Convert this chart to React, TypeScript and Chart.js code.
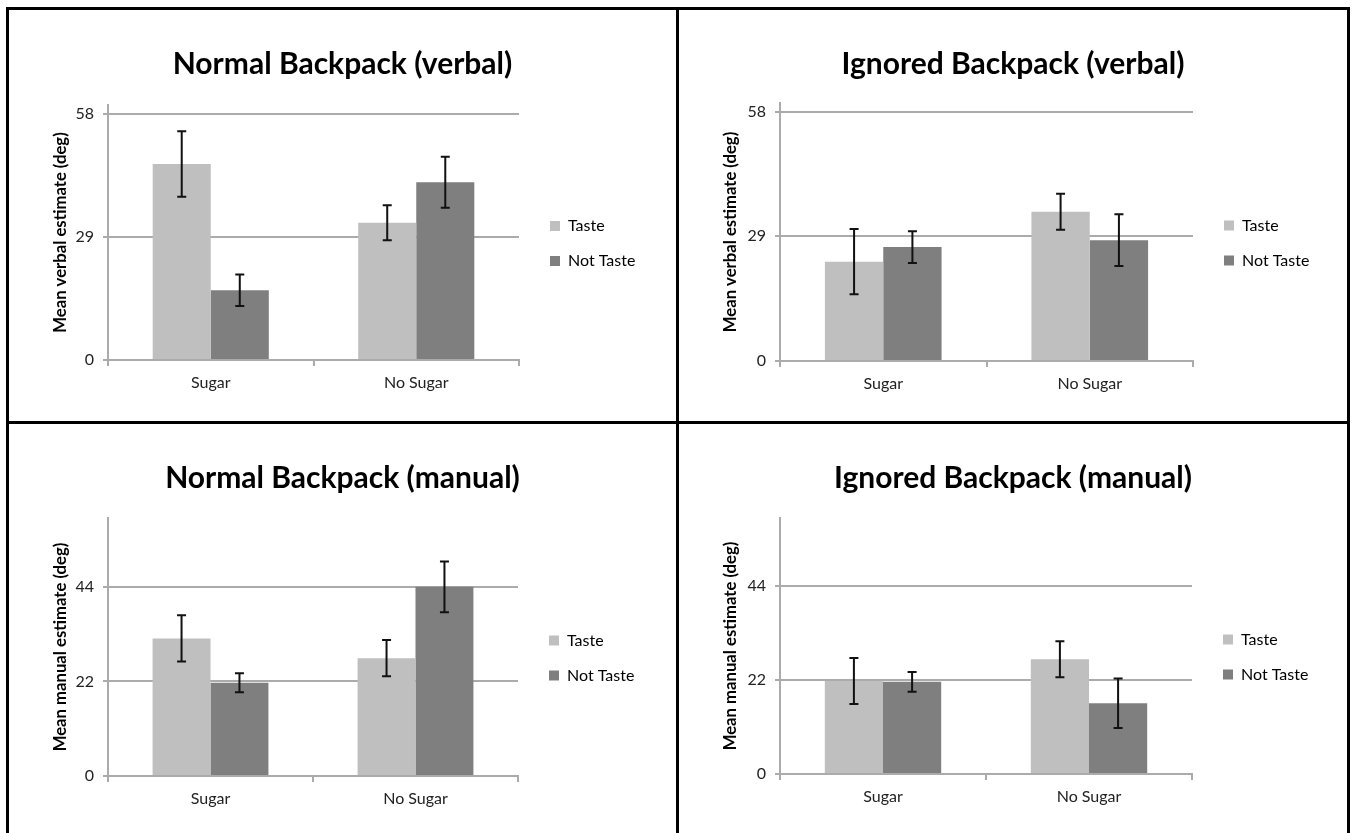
import React, { useEffect, useRef } from 'react';
import { Chart, registerables } from 'chart.js';

Chart.register(...registerables);
Chart.defaults.font.family = 'Lato';

// ---------- data ----------
const categories = ['Sugar', 'No Sugar'];
const seriesNames = ['Taste', 'Not Taste'];
const verbalTicks = [0, 29, 58];
const manualTicks = [0, 22, 44];
const yMax = 60;

const normalVerbalTaste = [46.1, 32.3];
const normalVerbalNotTaste = [16.4, 41.8];
const normalVerbalTasteErr = [7.7, 4.1];
const normalVerbalNotTasteErr = [3.7, 6.0];

const ignoredVerbalTaste = [23.1, 34.7];
const ignoredVerbalNotTaste = [26.5, 28.1];
const ignoredVerbalTasteErr = [7.6, 4.2];
const ignoredVerbalNotTasteErr = [3.7, 6.0];

const normalManualTaste = [32.0, 27.4];
const normalManualNotTaste = [21.7, 44.0];
const normalManualTasteErr = [5.4, 4.2];
const normalManualNotTasteErr = [2.2, 5.9];

const ignoredManualTaste = [21.8, 26.9];
const ignoredManualNotTaste = [21.6, 16.6];
const ignoredManualTasteErr = [5.4, 4.2];
const ignoredManualNotTasteErr = [2.3, 5.8];

// ---------- style ----------
const TASTE_COLOR = '#bfbfbf';
const NOT_TASTE_COLOR = '#7f7f7f';
const GRID = '#ababab';
const LEGEND_FONT_SIZE = 16;
const LEGEND_PAD = 19;
const LEGEND_BOX = 10;
const LEGEND_GAP = 12;

const errorBarPlugin = {
  id: 'errorBars',
  afterDatasetsDraw(chart: any) {
    const { ctx } = chart;
    const yScale = chart.scales.y;
    chart.data.datasets.forEach((ds: any, i: number) => {
      const meta = chart.getDatasetMeta(i);
      meta.data.forEach((bar: any, j: number) => {
        const v = ds.data[j];
        const e = ds.errors[j];
        const x = bar.x;
        const yTop = yScale.getPixelForValue(v + e);
        const yBot = yScale.getPixelForValue(v - e);
        ctx.save();
        ctx.strokeStyle = '#111';
        ctx.lineWidth = 2;
        ctx.beginPath();
        ctx.moveTo(x, yTop);
        ctx.lineTo(x, yBot);
        ctx.moveTo(x - 4.5, yTop);
        ctx.lineTo(x + 4.5, yTop);
        ctx.moveTo(x - 4.5, yBot);
        ctx.lineTo(x + 4.5, yBot);
        ctx.stroke();
        ctx.restore();
      });
    });
  },
};

// fixes the legend box width so the plot area has a known right edge
const legendWidthPlugin = {
  id: 'legendWidth',
  beforeLayout(chart: any, _args: any, opts: any) {
    const lg = chart.legend;
    if (lg && !lg.__fixed) {
      const orig = lg.fit.bind(lg);
      lg.fit = function () {
        orig();
        this.width = opts.width;
      };
      lg.__fixed = true;
    }
  },
};

type Area = { left: number; right: number; top: number; bottom: number };

type PanelProps = {
  title: string;
  yTitle: string;
  ticks: number[];
  taste: number[];
  notTaste: number[];
  tasteErr: number[];
  notTasteErr: number[];
  width: number;
  height: number;
  x: number;
  y: number;
  area: Area;
};

function Panel(p: PanelProps) {
  const ref = useRef<HTMLCanvasElement>(null);
  useEffect(() => {
    const canvas = ref.current!;
    const legendWidth = p.width - p.area.right - LEGEND_GAP;

    const titleSize = 30;
    const titleLH = titleSize * 1.2;
    const titleCenter = 54;
    const titleTop = titleCenter - titleLH / 2;
    const titleBottom = p.area.top - titleTop - titleLH;

    const chart = new Chart(canvas, {
      type: 'bar',
      data: {
        labels: categories,
        datasets: [
          {
            label: seriesNames[0],
            data: p.taste,
            errors: p.tasteErr,
            backgroundColor: TASTE_COLOR,
            borderWidth: 0,
            categoryPercentage: 0.565,
            barPercentage: 1.0,
          } as any,
          {
            label: seriesNames[1],
            data: p.notTaste,
            errors: p.notTasteErr,
            backgroundColor: NOT_TASTE_COLOR,
            borderWidth: 0,
            categoryPercentage: 0.565,
            barPercentage: 1.0,
          } as any,
        ],
      },
      options: {
        responsive: false,
        animation: false,
        layout: { padding: 0 },
        plugins: {
          tooltip: { enabled: false },
          legendWidth: { width: legendWidth },
          title: {
            display: true,
            text: p.title,
            color: '#000',
            font: { family: 'Lato', size: titleSize, weight: 'bold', lineHeight: 1.2 },
            padding: { top: titleTop, bottom: titleBottom },
          },
          legend: {
            position: 'right',
            align: 'center',
            fullSize: false,
            title: {
              display: true,
              text: ' ',
              font: { size: 10, lineHeight: 1.2 },
              padding: { top: 10, bottom: 0 },
            },
            labels: {
              boxWidth: LEGEND_BOX,
              boxHeight: LEGEND_BOX,
              padding: LEGEND_PAD,
              color: '#000',
              font: { family: 'Lato', size: LEGEND_FONT_SIZE },
            },
          },
        },
        scales: {
          x: {
            offset: true,
            grid: {
              display: true,
              drawOnChartArea: false,
              drawTicks: true,
              tickLength: 6,
              color: GRID,
              lineWidth: 2,
            },
            border: { display: true, color: GRID, width: 2 },
            ticks: { color: '#222', font: { size: 16 }, padding: 7 },
            afterFit: (s: any) => {
              s.height = p.height - p.area.bottom;
            },
          },
          y: {
            min: 0,
            max: yMax,
            afterBuildTicks: (s: any) => {
              s.ticks = p.ticks.map((v) => ({ value: v }));
            },
            grid: { color: GRID, lineWidth: 2, tickLength: 5 },
            border: { display: true, color: GRID, width: 2 },
            ticks: { color: '#222', font: { size: 16 }, padding: 9 },
            title: {
              display: true,
              text: p.yTitle,
              color: '#000',
              font: { size: 16.7, weight: 'bold', lineHeight: 1.2 },
              padding: { top: 42, bottom: 0 },
            },
            afterFit: (s: any) => {
              s.width = p.area.left;
            },
          },
          gap: {
            type: 'linear',
            position: 'right',
            display: true,
            grid: { display: false },
            ticks: { display: false },
            border: { display: false },
            afterFit: (s: any) => {
              s.width = LEGEND_GAP;
            },
          },
        },
      } as any,
      plugins: [errorBarPlugin, legendWidthPlugin],
    });
    return () => chart.destroy();
  }, []);
  return (
    <canvas
      ref={ref}
      width={p.width}
      height={p.height}
      style={{ position: 'absolute', left: p.x, top: p.y, width: p.width, height: p.height }}
    />
  );
}

const line = (left: number, top: number, width: number, height: number) => (
  <div style={{ position: 'absolute', left, top, width, height, background: '#000' }} />
);

export default function App() {
  return (
    <div
      style={{
        position: 'absolute',
        left: 0,
        top: 0,
        width: 1355,
        height: 833,
        background: '#fff',
        overflow: 'hidden',
      }}
    >
      <Panel
        title="Normal Backpack (verbal)"
        yTitle="Mean verbal estimate (deg)"
        ticks={verbalTicks}
        taste={normalVerbalTaste}
        notTaste={normalVerbalNotTaste}
        tasteErr={normalVerbalTasteErr}
        notTasteErr={normalVerbalNotTasteErr}
        x={9}
        y={10}
        width={667}
        height={411}
        area={{ left: 99, right: 510, top: 95, bottom: 350 }}
      />
      <Panel
        title="Ignored Backpack (verbal)"
        yTitle="Mean verbal estimate (deg)"
        ticks={verbalTicks}
        taste={ignoredVerbalTaste}
        notTaste={ignoredVerbalNotTaste}
        tasteErr={ignoredVerbalTasteErr}
        notTasteErr={ignoredVerbalNotTasteErr}
        x={679}
        y={10}
        width={668}
        height={411}
        area={{ left: 101, right: 514, top: 93, bottom: 351 }}
      />
      <Panel
        title="Normal Backpack (manual)"
        yTitle="Mean manual estimate (deg)"
        ticks={manualTicks}
        taste={normalManualTaste}
        notTaste={normalManualNotTaste}
        tasteErr={normalManualTasteErr}
        notTasteErr={normalManualNotTasteErr}
        x={9}
        y={424}
        width={667}
        height={409}
        area={{ left: 99, right: 509, top: 94, bottom: 352 }}
      />
      <Panel
        title="Ignored Backpack (manual)"
        yTitle="Mean manual estimate (deg)"
        ticks={manualTicks}
        taste={ignoredManualTaste}
        notTaste={ignoredManualNotTaste}
        tasteErr={ignoredManualTasteErr}
        notTasteErr={ignoredManualNotTasteErr}
        x={679}
        y={424}
        width={668}
        height={409}
        area={{ left: 101, right: 513, top: 94, bottom: 350 }}
      />
      {line(6, 7, 1344, 3)}
      {line(6, 7, 3, 826)}
      {line(1347, 7, 3, 826)}
      {line(676, 7, 3, 826)}
      {line(6, 421, 1344, 3)}
    </div>
  );
}
